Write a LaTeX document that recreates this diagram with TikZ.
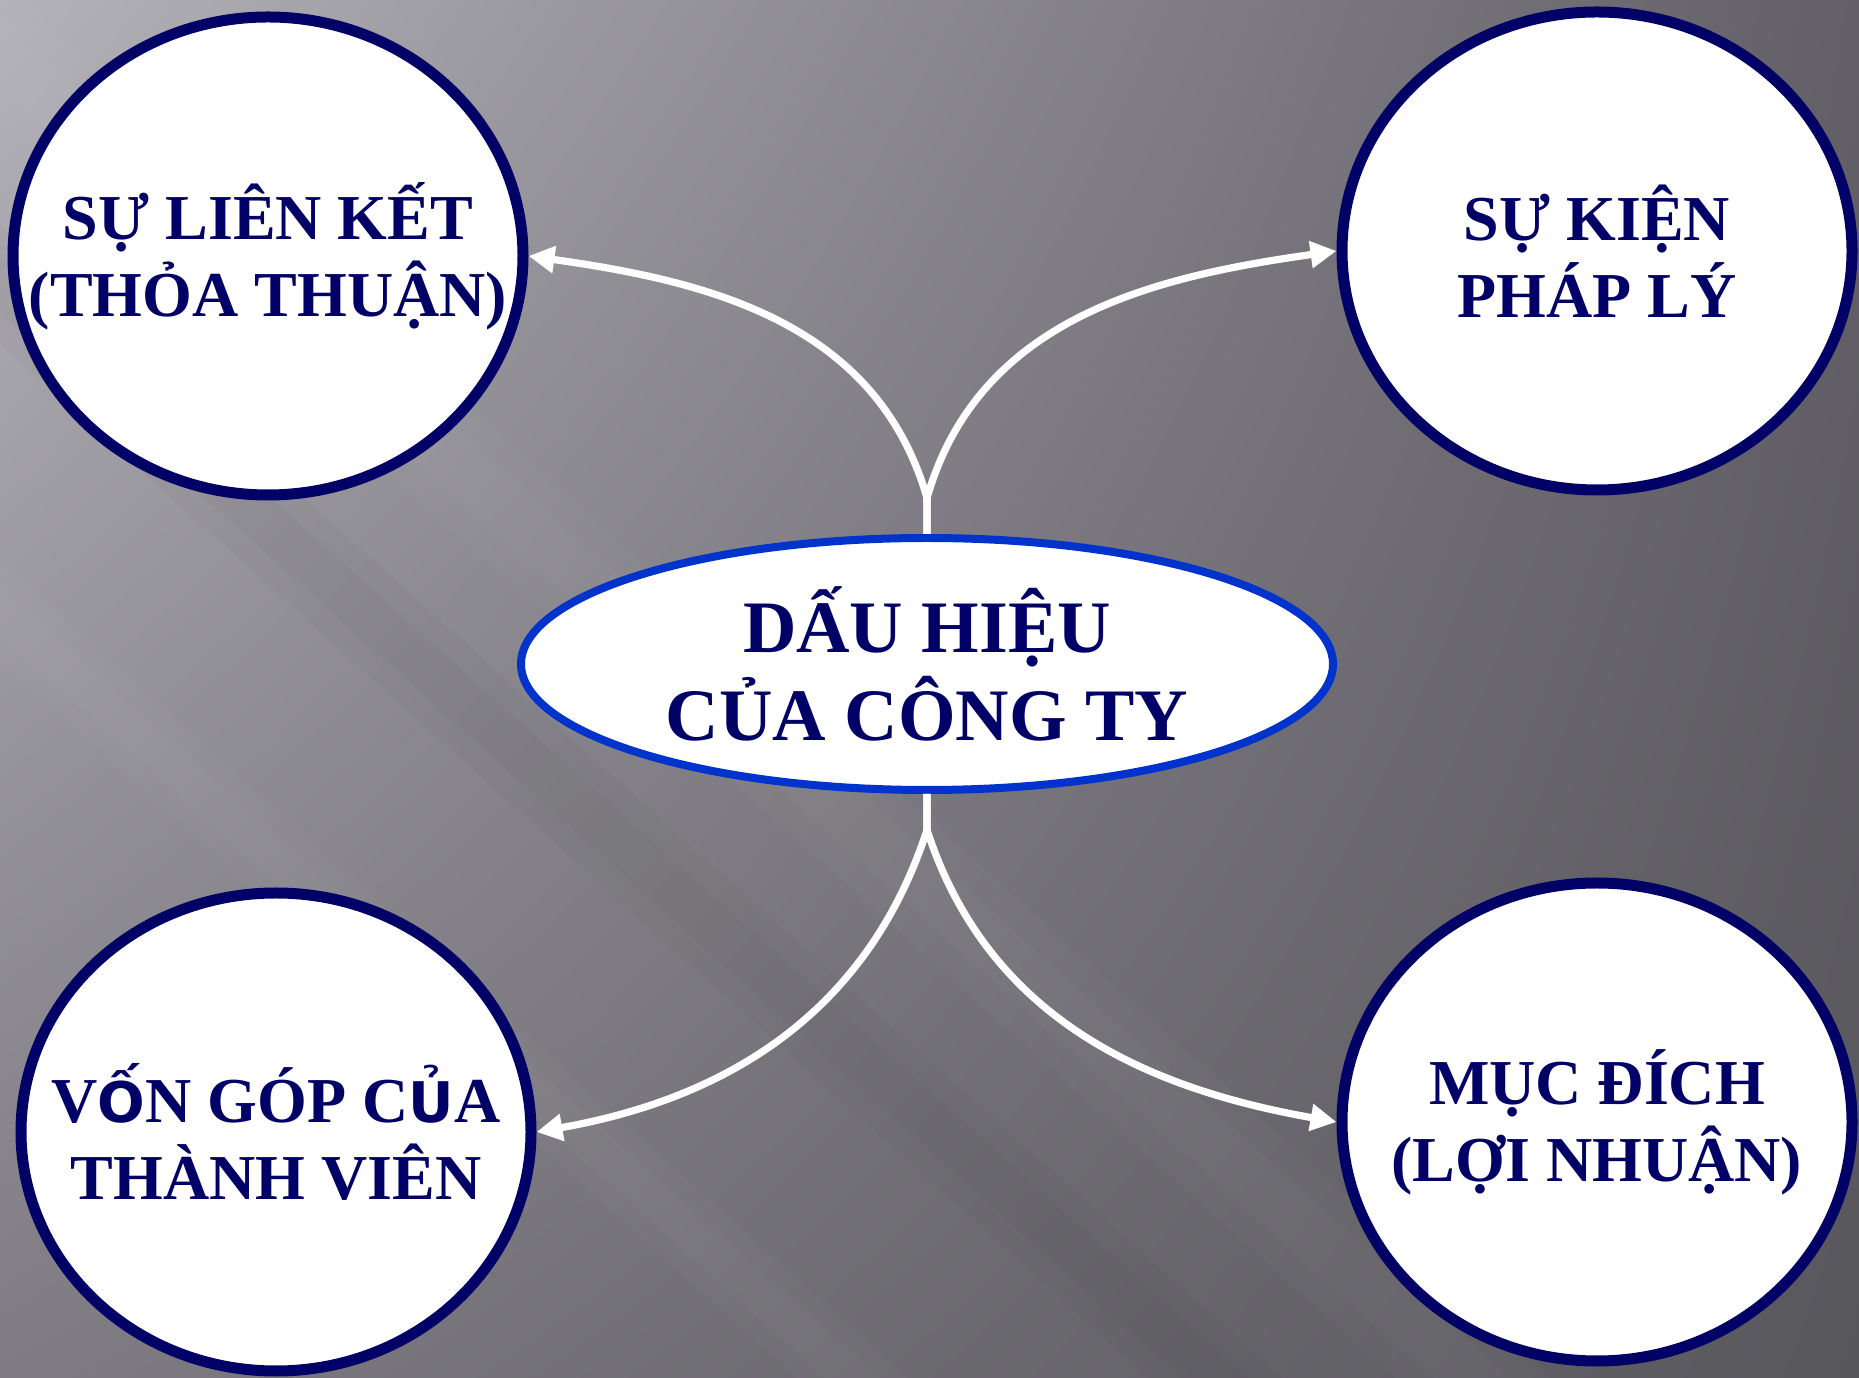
\documentclass[tikz,border=0pt]{standalone}
\usepackage{fontspec}
\setmainfont{Liberation Serif}
\newfontfamily\sansglyph{DejaVu Sans}
\usetikzlibrary{arrows.meta,positioning,shapes.geometric,shadings}
\definecolor{navy}{HTML}{000066}
\definecolor{royal}{HTML}{0033CC}
\definecolor{bgul}{HTML}{B4B2B9}
\definecolor{bgur}{HTML}{626066}
\definecolor{bgll}{HTML}{7E7C82}
\definecolor{bglr}{HTML}{58575C}
\tikzset{
  idea/.style={ellipse, draw=navy, line width=5.5pt, fill=white,
    minimum width=255pt, minimum height=239pt, inner sep=0pt},
  caption/.style={align=center, text=navy, inner sep=0pt,
    font=\fontsize{32}{38.5}\selectfont\bfseries},
  hub/.style={ellipse, draw=royal, line width=4pt, fill=white,
    minimum width=406pt, minimum height=126pt, inner sep=0pt,
    align=center, text=navy, font=\fontsize{37}{44}\selectfont\bfseries},
  link/.style={draw=white, line width=3.6pt, -{Triangle[length=13pt,width=13pt]}},
  streak/.style={opacity=0.025}
}
\newcommand{\sg}[1]{{\sansglyph\fontsize{28}{38.5}\selectfont #1}}

\begin{document}
\begin{tikzpicture}[x=0.5pt,y=0.5pt]
  \useasboundingbox (0,0) rectangle (1859,1377);
  % background
  \shade[upper left=bgul, upper right=bgur, lower left=bgll, lower right=bglr]
    (0,0) rectangle (1859,1377);
  \begin{scope}
    \clip (0,0) rectangle (1859,1377);
    \foreach \c/\w/\tone in {611/50/white, 284/60/black, 53/70/white}
      \foreach \k in {1,0.5}
        \fill[streak, \tone] (0,{1377-\c+\k*\w}) -- (1859,{-296-\c+\k*\w})
          -- (1859,{-296-\c-\k*\w}) -- (0,{1377-\c-\k*\w}) -- cycle;
  \end{scope}

  \node[hub] (dh) at (927,713) {DẤU HIỆU\\CỦA CÔNG TY};
  \node[idea, label={[caption]center:SỰ LIÊN KẾT\\(THỎA THUẬN)}] (lk) at (268,1121) {};
  \node[idea, label={[caption]center:SỰ KIỆN\\PHÁP LÝ}] (sk) at (1597,1126) {};
  \node[idea, label={[caption]center:V\sg{Ố}N GÓP C\sg{Ủ}A\\THÀNH VIÊN}] (vg) at (276,245) {};
  \node[idea, label={[caption]center:MỤC ĐÍCH\\(LỢI NHUẬN)}] (md) at (1597,255) {};

  \coordinate[above=18pt of dh.north] (topfork);
  \coordinate[below=18pt of dh.south] (lowfork);
  \draw[link] (dh.north) -- (topfork) to[out=106,in=-8] (lk.east);  % up left
  \draw[link] (dh.north) -- (topfork) to[out=74,in=188] (sk.west);  % up right
  \draw[link] (dh.south) -- (lowfork) to[out=252,in=10] (vg.east);  % down left
  \draw[link] (dh.south) -- (lowfork) to[out=288,in=170] (md.west); % down right
\end{tikzpicture}
\end{document}
